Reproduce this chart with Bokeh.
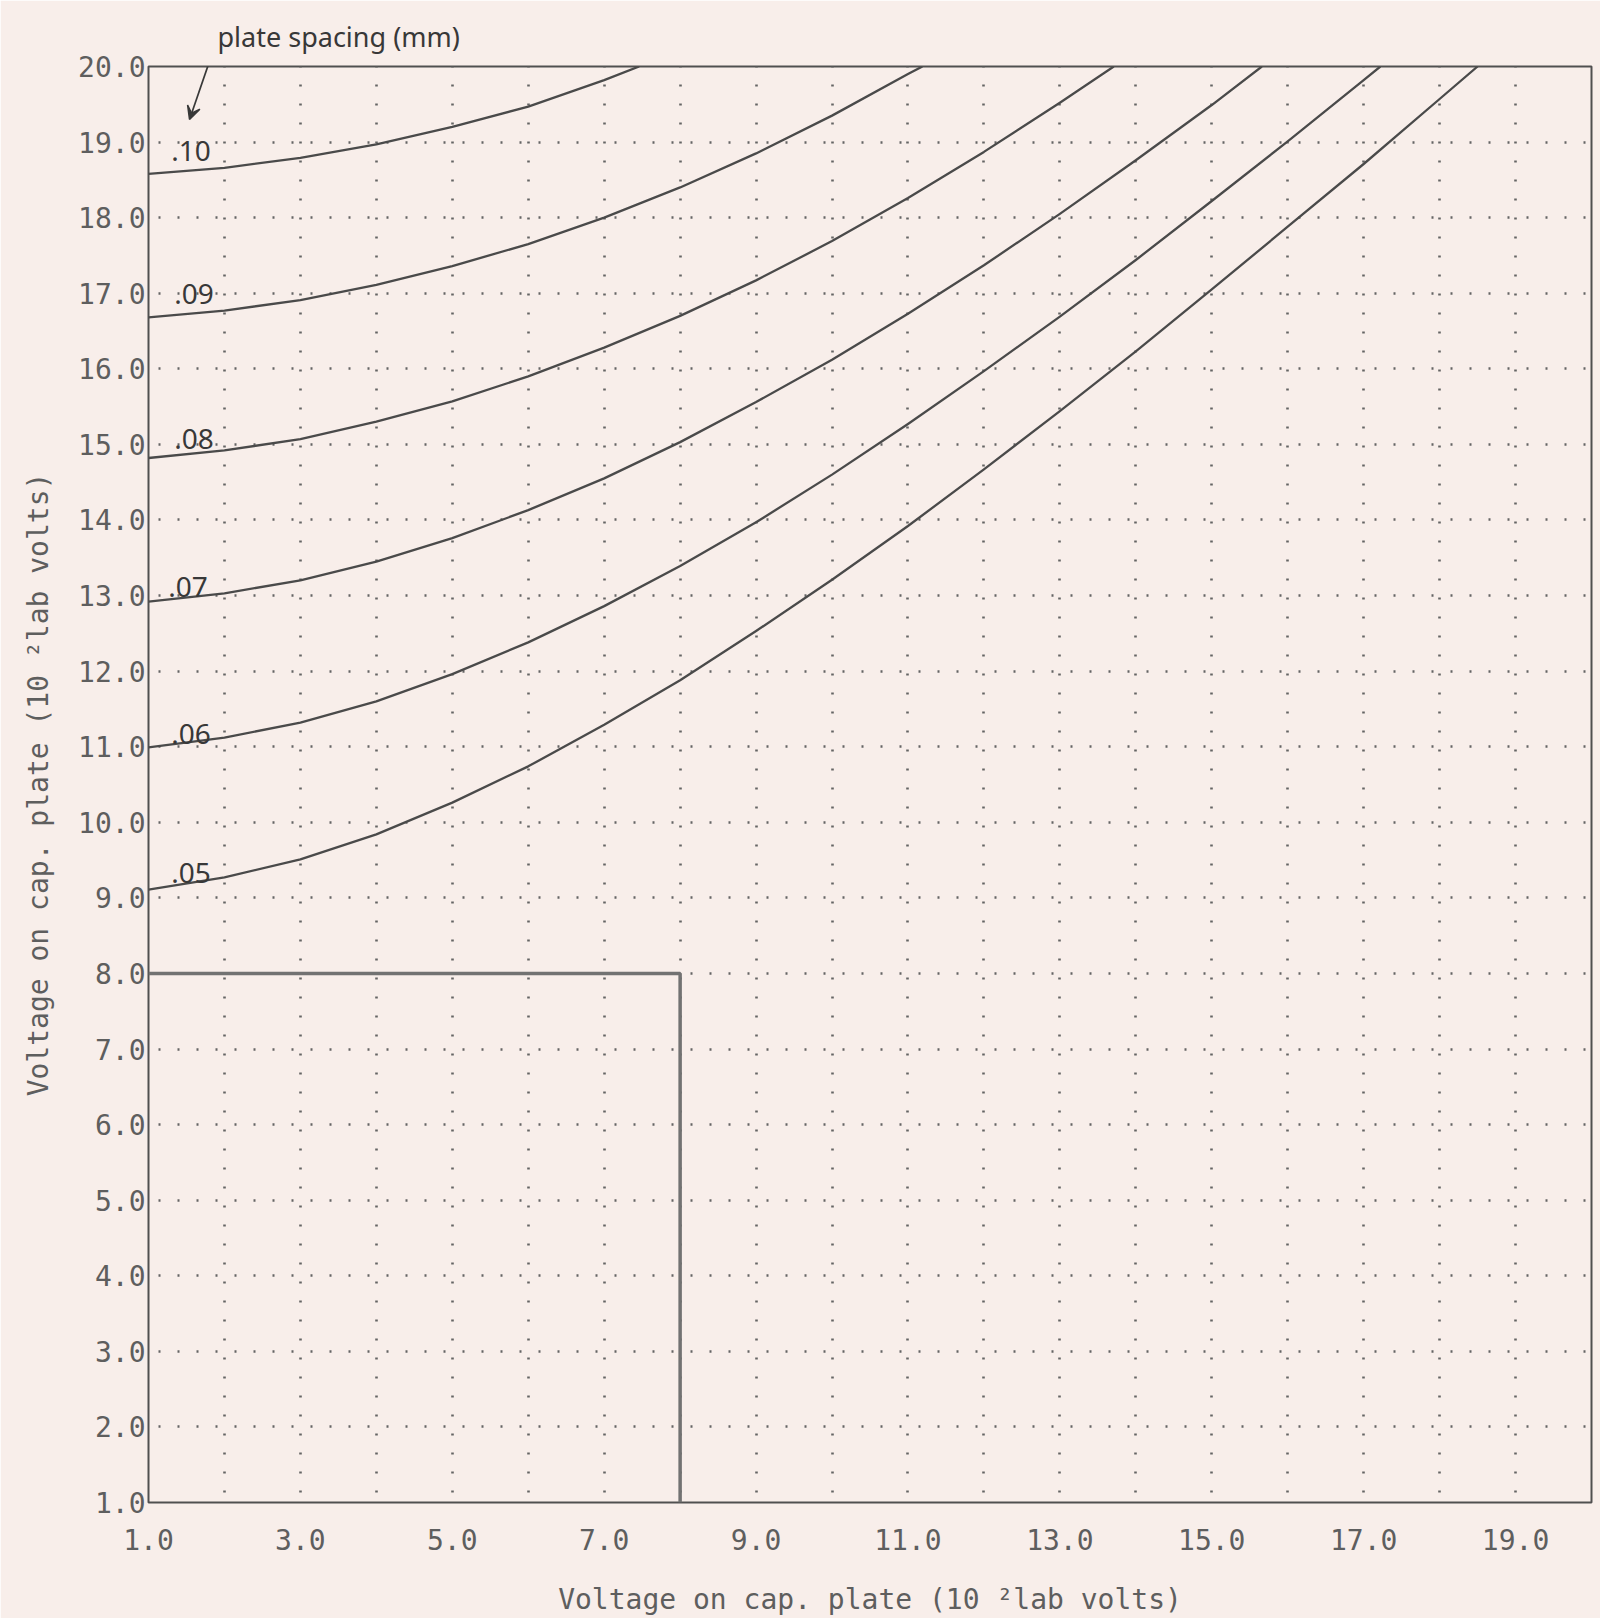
from bokeh.plotting import figure
from bokeh.models import FixedTicker, Label, Arrow, VeeHead, Range1d, PrintfTickFormatter, Title
from bokeh.embed import file_html
from bokeh.resources import INLINE

# ---------------- data ----------------
x_tick_values = [1, 3, 5, 7, 9, 11, 13, 15, 17, 19]
y_tick_values = list(range(1, 21))
grid_x_values = list(range(1, 21))
grid_y_values = list(range(1, 21))

spacing_labels = [".10", ".09", ".08", ".07", ".06", ".05"]
spacing_label_x = [1.56, 1.60, 1.60, 1.52, 1.56, 1.56]
spacing_label_y = [18.88, 16.99, 15.07, 13.11, 11.17, 9.33]

c10_x = [1, 2, 3, 4, 5, 6, 7, 7.46]
c10_y = [18.58, 18.66, 18.79, 18.97, 19.20, 19.47, 19.82, 20.0]

c09_x = [1, 2, 3, 4, 5, 6, 7, 8, 9, 10, 11, 11.19]
c09_y = [16.68, 16.77, 16.91, 17.11, 17.36, 17.65, 18.00, 18.40, 18.85, 19.35, 19.90, 20.0]

c08_x = [1, 2, 3, 4, 5, 6, 7, 8, 9, 10, 11, 12, 13, 13.71]
c08_y = [14.82, 14.92, 15.07, 15.30, 15.57, 15.90, 16.28, 16.70, 17.17, 17.69, 18.26, 18.87, 19.52, 20.0]

c07_x = [1, 2, 3, 4, 5, 6, 7, 8, 9, 10, 11, 12, 13, 14, 15, 15.66]
c07_y = [12.92, 13.03, 13.20, 13.45, 13.76, 14.13, 14.55, 15.03, 15.56, 16.12, 16.73, 17.37, 18.05, 18.76, 19.49, 20.0]

c06_x = [1, 2, 3, 4, 5, 6, 7, 8, 9, 10, 11, 12, 13, 14, 15, 16, 17, 17.22]
c06_y = [10.99, 11.12, 11.32, 11.60, 11.96, 12.38, 12.86, 13.39, 13.97, 14.60, 15.27, 15.97, 16.69, 17.44, 18.22, 19.01, 19.82, 20.0]

c05_x = [1, 2, 3, 4, 5, 6, 7, 8, 9, 10, 11, 12, 13, 14, 15, 16, 17, 18, 18.50]
c05_y = [9.11, 9.27, 9.51, 9.84, 10.26, 10.74, 11.29, 11.88, 12.53, 13.21, 13.92, 14.67, 15.44, 16.23, 17.05, 17.88, 18.71, 19.57, 20.0]

box_x = [1.0, 8.0, 8.0]
box_y = [8.0, 8.0, 1.0]

axis_title = "Voltage on cap. plate (10 \u00b2lab volts)"
note_text = "plate spacing (mm)"
arrow_start = (1.91, 20.38)
arrow_end = (1.54, 19.30)

# ---------------- styling ----------------
BG = "#f8eeea"
INK = "#5e5e5e"
CURVE = "#4a4a4a"
HAND = "#383838"
MONO = "DejaVu Sans Mono"
FS = 28

W, H = 1600, 1618
ML, MT = 148, 66
FW, FH = 1443, 1436
MR, MB = W - ML - FW, H - MT - FH

p = figure(width=W, height=H, x_range=Range1d(1, 20), y_range=Range1d(1, 20),
           output_backend="svg", toolbar_location=None,
           min_border_left=ML, min_border_right=MR, min_border_top=MT, min_border_bottom=MB)
p.background_fill_color = BG
p.border_fill_color = BG
p.outline_line_color = "#505050"
p.outline_line_width = 2

for ax in (p.xaxis, p.yaxis):
    ax.axis_line_color = None
    ax.major_tick_line_color = None
    ax.minor_tick_line_color = None
    ax.major_label_text_font = MONO
    ax.major_label_text_font_size = f"{FS}px"
    ax.major_label_text_color = INK
    ax.formatter = PrintfTickFormatter(format="%.1f")
    ax.axis_label = axis_title
    ax.axis_label_text_font = MONO
    ax.axis_label_text_font_size = f"{FS}px"
    ax.axis_label_text_font_style = "normal"
    ax.axis_label_text_color = INK

p.xaxis.ticker = FixedTicker(ticks=x_tick_values)
p.yaxis.ticker = FixedTicker(ticks=y_tick_values)
p.xaxis.major_label_standoff = 20
p.yaxis.major_label_standoff = -3
p.xaxis.axis_label_standoff = 30
p.yaxis.axis_label_standoff = 20

p.xgrid.ticker = FixedTicker(ticks=grid_x_values)
p.ygrid.ticker = FixedTicker(ticks=grid_y_values)
for g in (p.xgrid, p.ygrid):
    g.grid_line_color = "#646464"
    g.grid_line_width = 2.6
    g.grid_line_dash = "2 17"
    g.grid_line_dash_offset = 9

# box
p.line(box_x, box_y, line_color="#727272", line_width=3.5)

# curves
for cx, cy in [(c10_x, c10_y), (c09_x, c09_y), (c08_x, c08_y),
               (c07_x, c07_y), (c06_x, c06_y), (c05_x, c05_y)]:
    p.line(cx, cy, line_color=CURVE, line_width=2.3, line_join="round")

# handwritten spacing labels
for t, lx, ly in zip(spacing_labels, spacing_label_x, spacing_label_y):
    p.add_layout(Label(x=lx, y=ly, text=t, text_align="center", text_baseline="middle",
                       text_font="Noto Sans", text_font_size="28px", text_color=HAND))

# note + arrow
p.add_layout(Title(text=note_text, align="left", offset=69, standoff=23,
                   text_font="Noto Sans", text_font_size="27px", text_font_style="normal",
                   text_color=HAND), "above")
p.add_layout(Arrow(end=VeeHead(size=13, line_color=HAND, fill_color=HAND, line_width=1.5),
                   x_start=arrow_start[0], y_start=arrow_start[1],
                   x_end=arrow_end[0], y_end=arrow_end[1],
                   line_color=HAND, line_width=1.7))

html = file_html(p, INLINE)
html = html.replace("<body>", f'<body style="background-color:{BG};margin:0;">', 1)
open("out.html", "w").write(html)
